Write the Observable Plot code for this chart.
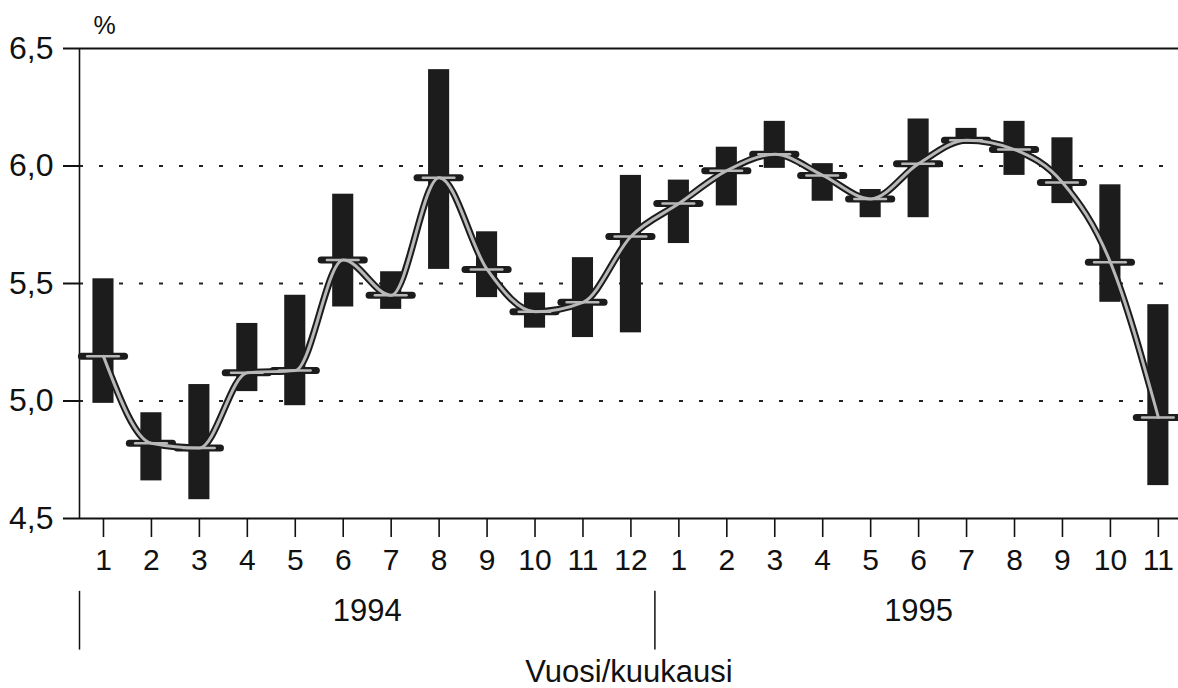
<!DOCTYPE html>
<html>
<head>
<meta charset="utf-8">
<script src="https://cdn.jsdelivr.net/npm/d3@7"></script>
<script src="https://cdn.jsdelivr.net/npm/@observablehq/plot@0.6"></script>
<style>
  html, body { margin: 0; padding: 0; background: #fff; }
  #chart svg { display: block; }
</style>
</head>
<body>
<div id="chart"></div>
<script>
// Month labels (1994: 1-12, 1995: 1-11)
const monthLabels = ["1","2","3","4","5","6","7","8","9","10","11","12",
                     "1","2","3","4","5","6","7","8","9","10","11"];
const yearOfMonth = [1994,1994,1994,1994,1994,1994,1994,1994,1994,1994,1994,1994,
                     1995,1995,1995,1995,1995,1995,1995,1995,1995,1995,1995];
const years = [1994, 1995];
// Monthly range (high / low) and average, %
const highValues = [5.52, 4.95, 5.07, 5.33, 5.45, 5.88, 5.55, 6.41, 5.72, 5.46, 5.61, 5.96,
                    5.94, 6.08, 6.19, 6.01, 5.90, 6.20, 6.16, 6.19, 6.12, 5.92, 5.41];
const lowValues  = [4.99, 4.66, 4.58, 5.04, 4.98, 5.40, 5.39, 5.56, 5.44, 5.31, 5.27, 5.29,
                    5.67, 5.83, 5.99, 5.85, 5.78, 5.78, 6.10, 5.96, 5.84, 5.42, 4.64];
const meanValues = [5.19, 4.82, 4.80, 5.12, 5.13, 5.60, 5.45, 5.95, 5.56, 5.38, 5.42, 5.70,
                    5.84, 5.98, 6.05, 5.96, 5.86, 6.01, 6.11, 6.07, 5.93, 5.59, 4.93];
const yTicks = [4.5, 5.0, 5.5, 6.0, 6.5];
const gridValues = [5.0, 5.5, 6.0];

const data = monthLabels.map((m, k) => ({
  i: k + 1, label: m, year: yearOfMonth[k],
  high: highValues[k], low: lowValues[k], mean: meanValues[k]
}));
const n = data.length;
const yearData = years.map(y => {
  const idx = data.filter(d => d.year === y).map(d => d.i);
  return {year: String(y), mid: (d3.min(idx) + d3.max(idx)) / 2, start: d3.min(idx) - 0.5};
});

const dark = "#1c1c1c";
const gray = "#b8b8b8";
const font = "'Liberation Sans', Arial, Helvetica, sans-serif";
const fmt = d => d.toFixed(1).replace(".", ",");

const chart = Plot.plot({
  width: 1178,
  height: 688,
  marginTop: 48,
  marginLeft: 79,
  marginRight: 0,
  marginBottom: 170,
  style: {fontFamily: font, color: "#111", background: "#fff"},
  x: {type: "linear", domain: [0.5, n + 0.42]},
  y: {domain: [4.5, 6.5]},
  marks: [
    // dotted gridlines
    Plot.ruleY(gridValues, {stroke: "#222", strokeWidth: 2, strokeDasharray: "4,16"}),
    // frame top and axes lines
    Plot.ruleY([6.5], {stroke: "#111", strokeWidth: 2}),
    Plot.ruleY([4.5], {stroke: "#111", strokeWidth: 2}),
    Plot.ruleX([0.5], {stroke: "#111", strokeWidth: 1.6}),
    Plot.axisY({ticks: yTicks, tickFormat: fmt, tickSize: 16, tickPadding: 10,
                fontSize: 32, label: null, stroke: "#111", strokeWidth: 2}),
    Plot.axisX({ticks: data.map(d => d.i), tickFormat: i => monthLabels[i - 1],
                tickSize: 19, tickPadding: 11, fontSize: 30, label: null,
                stroke: "#111", strokeWidth: 1.6}),
    // year separators and labels
    Plot.ruleX(yearData, {x: "start", y1: 4.19, y2: 3.94, stroke: "#111", strokeWidth: 1.5}),
    Plot.text(yearData, {x: "mid", y: 4.5, text: "year", dy: 93, fontSize: 31,
                         lineAnchor: "middle", fill: "#111"}),
    Plot.text(["Vuosi/kuukausi"], {frameAnchor: "bottom", dy: 154, fontSize: 31,
                                   lineAnchor: "middle", fill: "#111"}),
    Plot.text(["%"], {frameAnchor: "top-left", dx: 14, dy: -23, fontSize: 25,
                      lineAnchor: "middle", fill: "#111"}),
    // range bars
    Plot.rectY(data, {x1: d => d.i - 0.22, x2: d => d.i + 0.22, y1: "low", y2: "high", fill: dark}),
    // mean line with dark outline and light core
    Plot.line(data, {x: "i", y: "mean", curve: "monotone-x", stroke: dark, strokeWidth: 7}),
    Plot.ruleY(data, {y: "mean", x1: d => d.i - 0.45, x2: d => d.i + 0.45,
                      stroke: dark, strokeWidth: 7, strokeLinecap: "round"}),
    Plot.line(data, {x: "i", y: "mean", curve: "monotone-x", stroke: gray, strokeWidth: 3}),
    Plot.ruleY(data, {y: "mean", x1: d => d.i - 0.33, x2: d => d.i + 0.33,
                      stroke: gray, strokeWidth: 2.5, strokeLinecap: "round"})
  ]
});
document.getElementById("chart").appendChild(chart);
</script>
</body>
</html>
